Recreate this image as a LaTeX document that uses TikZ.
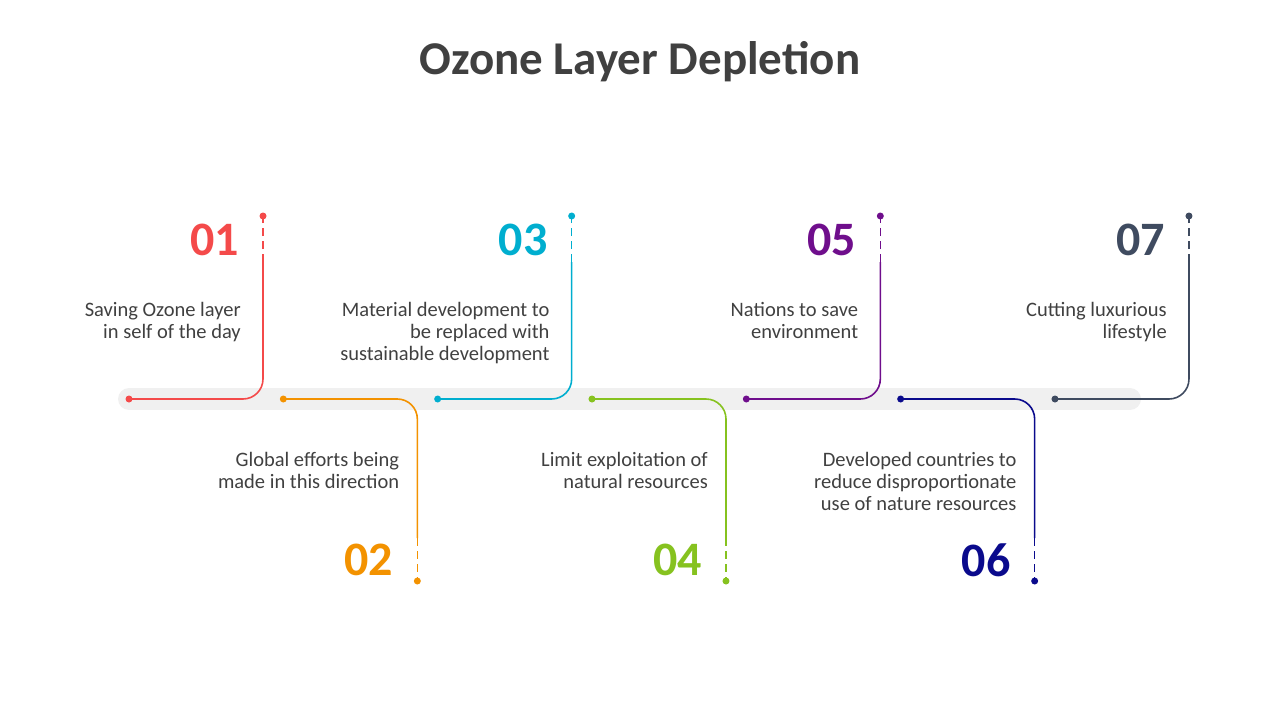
\documentclass[tikz,border=0pt]{standalone}
\usepackage{fontspec}
\setmainfont{Carlito}
\usetikzlibrary{positioning}
\definecolor{step red}{RGB}{244,74,74}
\definecolor{step orange}{RGB}{243,146,0}
\definecolor{step cyan}{RGB}{0,174,207}
\definecolor{step green}{RGB}{134,194,31}
\definecolor{step purple}{RGB}{111,14,140}
\definecolor{step navy}{RGB}{10,10,140}
\definecolor{step slate}{RGB}{63,75,96}
\definecolor{title gray}{RGB}{64,64,64}
\definecolor{band gray}{RGB}{240,240,240}
\begin{document}
\begin{tikzpicture}[x=1pt,y=-1pt,
					step line/.style={line width=1.6pt},
					step dash/.style={line width=1.6pt, dash pattern=on 8pt off 5pt},
					step dot/.style={circle, inner sep=0pt, minimum size=7pt},
					step num/.style={font=\fontsize{48}{48}\selectfont\bfseries, inner sep=0pt},
					step text/.style={font=\fontsize{20.5}{22}\selectfont, text=title gray, align=right, inner sep=0pt},
				]
					\useasboundingbox (0,0) rectangle (1280,720);
					\node[font=\fontsize{47}{47}\selectfont\bfseries, text=title gray] (title) at (640,62) {Ozone Layer Depletion};
					\draw[band gray, line width=22pt, line cap=round] (129,399) -- (1130,399);
					
					% items above the band
					\foreach \i/\c/\txt in {1/step red/{Saving Ozone layer\\in self of the day},
						3/step cyan/{Material development to\\be replaced with\\sustainable development},
						5/step purple/{Nations to save\\environment},
						7/step slate/{Cutting luxurious\\lifestyle}}{
						\pgfmathsetmacro{\sx}{129+154.33*(\i-1)}
						\pgfmathsetmacro{\vx}{\sx+134}
						\node[step dot, fill=\c] (s\i) at (\sx,399) {};
						\node[step dot, fill=\c] (e\i) at (\vx,216) {};
						\coordinate (k\i) at (\vx,262);
						\draw[step line, \c, rounded corners=20pt] (s\i.center) -| (k\i);
						\draw[step dash, \c] (k\i) -- (e\i.center);
						\node[step num, text=\c, anchor=east] (n\i) at (\vx-24,240) {0\i};
						\node[step text, anchor=north east] (t\i) at (\vx-22,302) {\txt};
					}
					
					% items below the band
					\foreach \i/\c/\txt in {2/step orange/{Global efforts being\\made in this direction},
						4/step green/{Limit exploitation of\\natural resources},
						6/step navy/{Developed countries to\\reduce disproportionate\\use of nature resources}}{
						\pgfmathsetmacro{\sx}{129+154.33*(\i-1)}
						\pgfmathsetmacro{\vx}{\sx+134}
						\node[step dot, fill=\c] (s\i) at (\sx,399) {};
						\node[step dot, fill=\c] (e\i) at (\vx,581) {};
						\coordinate (k\i) at (\vx,538);
						\draw[step line, \c, rounded corners=20pt] (s\i.center) -| (k\i);
						\draw[step dash, \c] (k\i) -- (e\i.center);
						\node[step num, text=\c, anchor=east] (n\i) at (\vx-24,560) {0\i};
						\node[step text, anchor=north east] (t\i) at (\vx-18,452) {\txt};
					}
				\end{tikzpicture}
\end{document}
